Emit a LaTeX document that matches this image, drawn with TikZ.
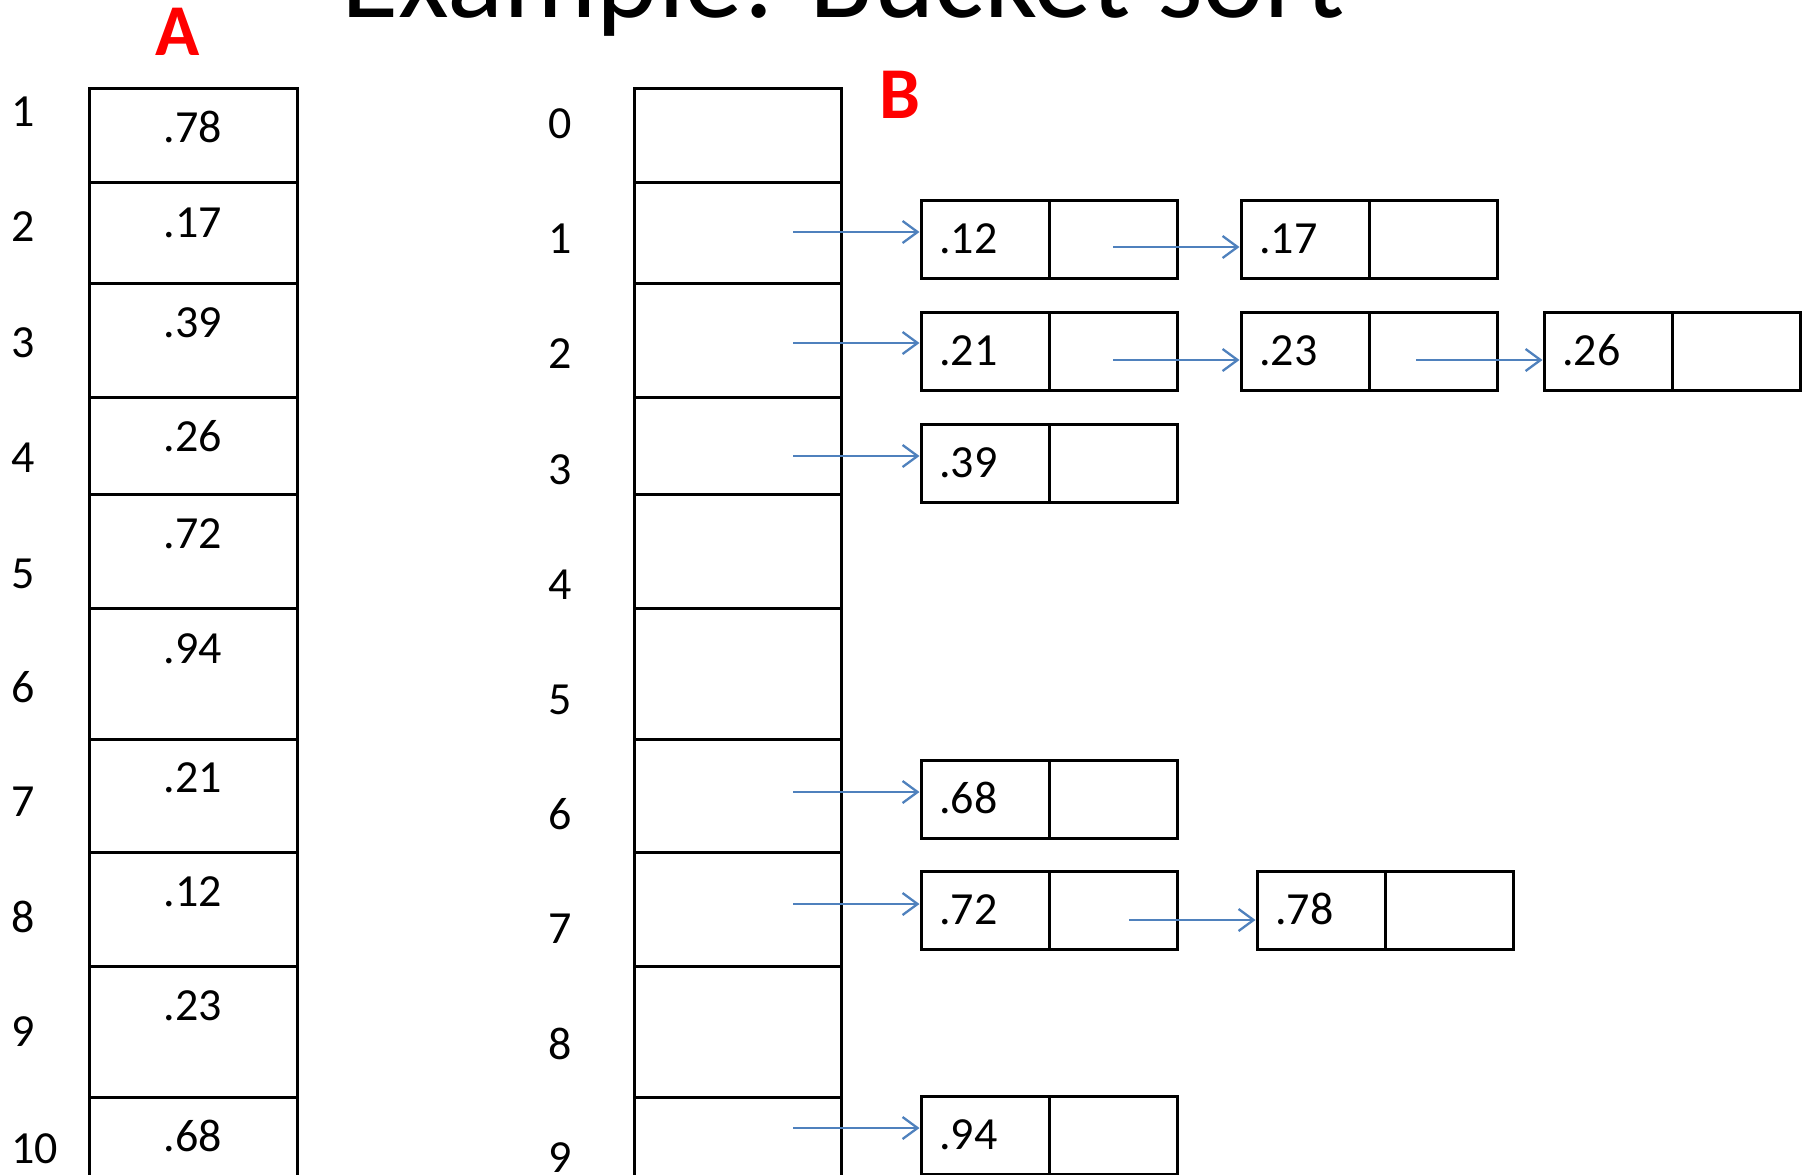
\documentclass[tikz,border=0pt]{standalone}
\usepackage{fontspec}
\setmainfont{Carlito}
\usetikzlibrary{arrows.meta,calc}
\definecolor{ptrblue}{HTML}{4F81BD}
\begin{document}
\begin{tikzpicture}[x=1pt,y=-1pt,
  acell/.style={draw=black,line width=3pt,inner sep=0pt,minimum width=208pt},
  bcell/.style={draw=black,line width=3pt,inner sep=0pt,minimum width=207pt},
  lbox/.style={draw=black,line width=3pt,inner sep=0pt,minimum width=128pt,minimum height=78pt},
  val/.style={inner sep=0pt,font=\fontsize{46}{46}\selectfont},
  idx/.style={inner sep=0pt,font=\fontsize{46}{46}\selectfont},
  ptr/.style={draw=ptrblue,line width=2.3pt,-{Straight Barb[length=15pt,width=22pt]}},
  tag/.style={inner sep=0pt,text=red,font=\fontsize{73}{73}\selectfont\bfseries}]
\useasboundingbox (0,0) rectangle (1810,1175);
\clip (0,0) rectangle (1810,1175);
% title
\node[inner sep=0pt,anchor=base,font=\fontsize{117}{117}\selectfont] (title) at (843,17) {Example: Bucket sort};
\node[tag,anchor=base] (tagA) at (178,55) {A};
\node[tag,anchor=base] (tagB) at (900,118) {B};
% array A
\foreach \i/\t/\b in {1/88/182,2/182/283,3/283/397,4/397/494,5/494/608,6/608/739,7/739/852,8/852/966,9/966/1097,10/1097/1240}
  \node[acell,minimum height={\b-\t}] (a\i) at (193,{(\t+\b)/2}) {};
\foreach \i/\v/\y in {1/.78/142,2/.17/237,3/.39/337,4/.26/451,5/.72/548,6/.94/663,7/.21/792,8/.12/906,9/.23/1020,10/.68/1151}
  \node[val,anchor=base] (av\i) at (193,\y) {\v};
\foreach \i/\y in {1/126,2/241,3/357,4/472,5/588,6/702,7/816,8/932,9/1046,10/1163}
  \node[idx,anchor=base west] (ai\i) at (11,\y) {\i};
% array B
\foreach \i/\t/\b in {0/88/182,1/182/283,2/283/397,3/397/494,4/494/608,5/608/739,6/739/852,7/852/966,8/966/1097,9/1097/1240}
  \node[bcell,minimum height={\b-\t}] (b\i) at (737.5,{(\t+\b)/2}) {};
\foreach \i/\y in {0/138,1/253,2/368,3/484,4/599,5/714,6/829,7/943,8/1059,9/1172}
  \node[idx,anchor=base] (bi\i) at (560,\y) {\i};
% list boxes
\foreach \n/\x/\y in {12/921/200,17/1241/200,21/921/312,23/1241/312,26/1544/312,39/921/424,68/921/760,72/921/871,78/1257/871,94/921/1096}{
  \node[lbox] (v\n) at ({\x+64},{\y+39}) {};
  \node[lbox] (p\n) at ({\x+192},{\y+39}) {};
  \node[val,anchor=base west] (t\n) at ({\x+18},{\y+53}) {.\n};
}
% pointers from buckets
\coordinate (s1) at (793,232);
\coordinate (s2) at (793,343);
\coordinate (s3) at (793,456);
\coordinate (s6) at (793,792);
\coordinate (s7) at (793,904);
\coordinate (s9) at (793,1128);
\draw[ptr] (s1) -- (s1 -| v12.west);
\draw[ptr] (s2) -- (s2 -| v21.west);
\draw[ptr] (s3) -- (s3 -| v39.west);
\draw[ptr] (s6) -- (s6 -| v68.west);
\draw[ptr] (s7) -- (s7 -| v72.west);
\draw[ptr] (s9) -- (s9 -| v94.west);
% pointers between list elements
\coordinate (q1) at (1113,247);
\coordinate (q2) at (1113,360);
\coordinate (q3) at (1416,360);
\coordinate (q7) at (1129,920);
\draw[ptr] (q1) -- (q1 -| v17.west);
\draw[ptr] (q2) -- (q2 -| v23.west);
\draw[ptr] (q3) -- (q3 -| v26.west);
\draw[ptr] (q7) -- (q7 -| v78.west);
\end{tikzpicture}
\end{document}
